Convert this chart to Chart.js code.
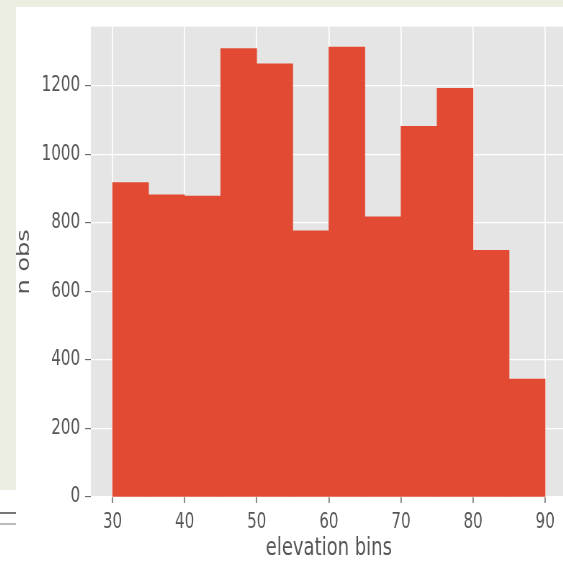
<!DOCTYPE html>
<html>
<head>
<meta charset="utf-8">
<script src="https://cdn.jsdelivr.net/npm/chart.js@4"></script>
<style>
  html, body { margin: 0; padding: 0; background: #ffffff; overflow: hidden; width: 563px; height: 561px; }
  .strip { position: absolute; background: #ebeee0; }
  #wrap {
    position: absolute; left: 16px; top: 7px;
    width: 780px; height: 554px;
    transform: scaleX(0.72); transform-origin: 0 0;
  }
  .dash { position: absolute; left: 0; width: 16px; }
</style>
</head>
<body>
<div class="strip" style="left:0;top:0;width:563px;height:7px"></div>
<div class="strip" style="left:0;top:0;width:16px;height:490px"></div>
<div class="dash" style="top:512px;height:2px;background:#777"></div>
<div class="dash" style="top:523px;height:2px;background:#bbb"></div>
<div id="wrap"><canvas id="chart"></canvas></div>
<script>
// histogram bins (elevation) and counts per bin
const binEdges = [30, 35, 40, 45, 50, 55, 60, 65, 70, 75, 80, 85, 90];
const counts   = [918, 882, 878, 1309, 1264, 777, 1313, 818, 1082, 1193, 720, 344];
const xTicks   = [30, 40, 50, 60, 70, 80, 90];
const yTicks   = [0, 200, 400, 600, 800, 1000, 1200];
const xLimits  = [27, 93];
const yLimits  = [0, 1373];

const BAR  = "#E24A33";
const TEXT = "#555555";

const bars = counts.map((c, i) => ({ x: (binEdges[i] + binEdges[i + 1]) / 2, y: c }));

// grey panel behind the plot, ggplot style
const panelBg = {
  id: "panelBg",
  beforeDraw(chart) {
    const { ctx, chartArea: a } = chart;
    ctx.save();
    ctx.fillStyle = "#E5E5E5";
    ctx.fillRect(a.left, a.top, a.right - a.left, a.bottom - a.top);
    ctx.restore();
  },
};

new Chart(document.getElementById("chart"), {
  type: "bar",
  data: {
    datasets: [{
      data: bars,
      backgroundColor: BAR,
      borderWidth: 0,
      barPercentage: 1.0,
      categoryPercentage: 1.0,
    }],
  },
  options: {
    animation: false,
    responsive: true,
    maintainAspectRatio: false,
    layout: { padding: { left: 0, right: 15, top: 18, bottom: 0 } },
    plugins: { legend: { display: false }, tooltip: { enabled: false } },
    scales: {
      x: {
        type: "linear",
        offset: false,
        min: xLimits[0],
        max: xLimits[1],
        afterBuildTicks: s => { s.ticks = xTicks.map(v => ({ value: v })); },
        afterFit: s => { s.height = 64; },
        grid: { offset: false, color: "#ffffff", lineWidth: 1.8, tickColor: TEXT, tickLength: 6, tickWidth: 1.4 },
        border: { display: false },
        ticks: { color: TEXT, font: { family: "DejaVu Sans", size: 21 }, padding: 7, maxRotation: 0, callback: v => String(v) },
        title: {
          display: true, text: "elevation bins", color: TEXT,
          font: { family: "DejaVu Sans", size: 25, lineHeight: 1 }, padding: 0,
        },
      },
      y: {
        min: yLimits[0],
        max: yLimits[1],
        afterBuildTicks: s => { s.ticks = yTicks.map(v => ({ value: v })); },
        afterFit: s => { s.width = 104; },
        grid: { color: "#ffffff", lineWidth: 1.3, tickColor: TEXT, tickLength: 8, tickWidth: 1 },
        border: { display: false },
        ticks: { color: TEXT, font: { family: "DejaVu Sans", size: 21 }, padding: 7, callback: v => String(v) },
        title: {
          display: true, text: "n obs", color: TEXT,
          font: { family: "DejaVu Sans", size: 24, lineHeight: 1 }, padding: 0,
        },
      },
    },
  },
  plugins: [panelBg],
});
</script>
</body>
</html>
